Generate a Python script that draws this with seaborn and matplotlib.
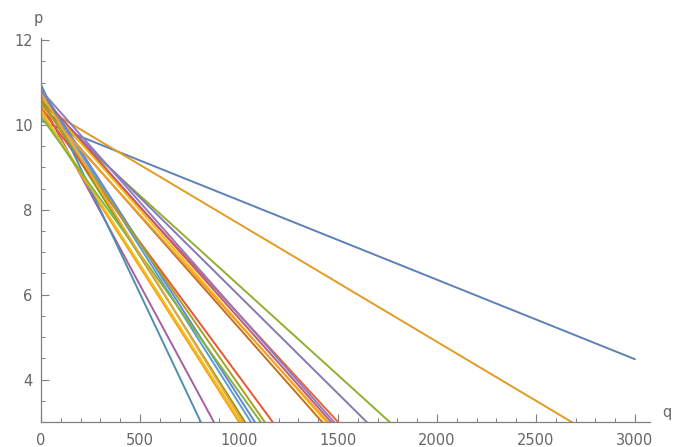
import numpy as np
import pandas as pd
import matplotlib
matplotlib.use("Agg")
import matplotlib.pyplot as plt
from matplotlib.ticker import MultipleLocator
import seaborn as sns

# Linear demand curves p = a - b*q
intercepts = [10.10, 10.45, 10.45, 10.60, 10.60, 10.50, 10.80, 10.65, 10.55, 10.60,
              10.40, 10.85, 10.30, 10.70, 10.95, 10.45, 10.35, 10.20, 10.55, 10.75,
              10.82]
q_at_floor = [None, 2680, 1761, 1500, 1645, 1420, 1060, 1440, 873, 1030,
              1170, 1080, 1000, 1465, 807, 1450, 1010, 1110, 1130, 1020,
              1480]
end_price_blue = 4.48
q_max = 3000
p_floor = 3.0

colors = ["#5E81B5", "#E19C24", "#8FB032", "#EB6235", "#8778B3", "#C56E1A",
          "#5D9EC7", "#FFBF00", "#A5609D", "#929600", "#E95536", "#6685D9",
          "#F89F13", "#BC5B80", "#4F8FB0", "#F0A030", "#F2C020", "#7FB540",
          "#A8A020", "#E8A840", "#8D7CC0"]

slopes = []
for a, qf in zip(intercepts, q_at_floor):
    if qf is None:
        slopes.append((a - end_price_blue) / q_max)
    else:
        slopes.append((a - p_floor) / qf)

q = np.array([0.0, q_max])
rows = []
for i, (a, b) in enumerate(zip(intercepts, slopes)):
    for qq in q:
        rows.append({"curve": i, "q": qq, "p": a - b * qq})
df = pd.DataFrame(rows)

sns.set_theme(style="white")
plt.rcParams["font.family"] = ["DejaVu Sans"]

W, H = 681, 447
fig = plt.figure(figsize=(W / 100, H / 100), dpi=100)
ax = fig.add_axes([41 / W, 25 / H, (650 - 41) / W, (422 - 38) / H])

sns.lineplot(data=df, x="q", y="p", hue="curve", palette=colors,
             legend=False, ax=ax, linewidth=1.4, estimator=None, sort=False)

ax.set_xlim(0, 3076)
ax.set_ylim(3, 12.05)
ax.set_xlabel("")
ax.set_ylabel("")

for side in ("top", "right"):
    ax.spines[side].set_visible(False)
for side in ("left", "bottom"):
    ax.spines[side].set_color("#808080")
    ax.spines[side].set_linewidth(0.9)

ax.xaxis.set_major_locator(MultipleLocator(500))
ax.xaxis.set_minor_locator(MultipleLocator(100))
ax.yaxis.set_major_locator(MultipleLocator(2))
ax.yaxis.set_minor_locator(MultipleLocator(0.5))
ax.set_yticks([4, 6, 8, 10, 12])

ax.tick_params(which="major", direction="in", length=6, width=0.8, color="#808080",
               labelsize=10.5, labelcolor="#666666")
ax.tick_params(which="minor", direction="in", length=3, width=0.7, color="#808080")
ax.tick_params(axis="x", which="major", pad=8, bottom=True)
ax.tick_params(axis="x", which="minor", bottom=True)
ax.tick_params(axis="y", which="major", pad=6, left=True)
ax.tick_params(axis="y", which="minor", left=True)

fig.text(667 / W, 1 - 412 / H, "q", ha="center", va="center", fontsize=10.5, color="#666666")
fig.text(38 / W, 1 - 18 / H, "p", ha="center", va="center", fontsize=10.5, color="#666666")

fig.savefig("out.png", dpi=100, facecolor="white")
